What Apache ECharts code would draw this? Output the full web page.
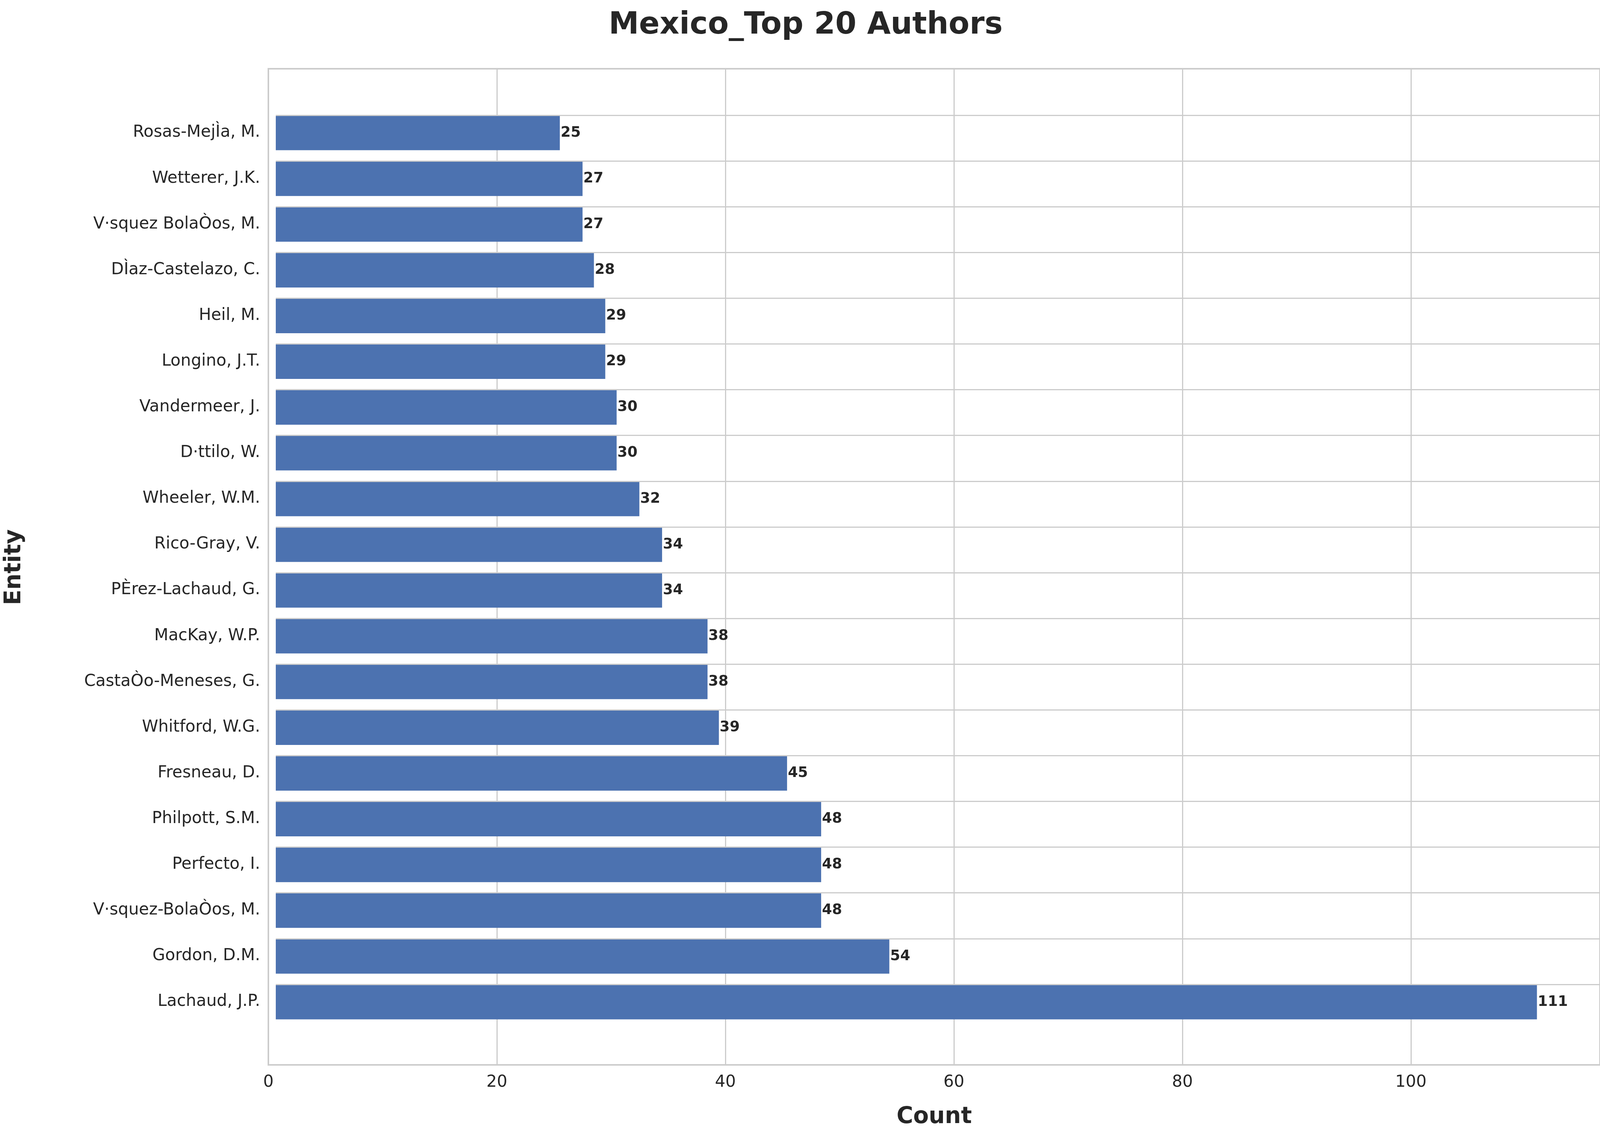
<!DOCTYPE html>
<html>
<head>
<meta charset="utf-8">
<style>html,body{margin:0;padding:0;background:#fff}#chart{width:4125px;height:2926px}</style>
<script src="https://cdn.jsdelivr.net/npm/echarts@6/dist/echarts.min.js"></script>
</head>
<body>
<div id="chart"></div>
<script>
// bottom to top
var authors = ['Lachaud, J.P.', 'Gordon, D.M.', 'V·squez-BolaÒos, M.', 'Perfecto, I.', 'Philpott, S.M.',
  'Fresneau, D.', 'Whitford, W.G.', 'CastaÒo-Meneses, G.', 'MacKay, W.P.', 'PÈrez-Lachaud, G.',
  'Rico-Gray, V.', 'Wheeler, W.M.', 'D·ttilo, W.', 'Vandermeer, J.', 'Longino, J.T.', 'Heil, M.',
  'DÌaz-Castelazo, C.', 'V·squez BolaÒos, M.', 'Wetterer, J.K.', 'Rosas-MejÌa, M.'];
var counts = [111, 54, 48, 48, 48, 45, 39, 38, 38, 34, 34, 32, 30, 30, 29, 29, 28, 27, 27, 25];

var txt = '#262626', grid = '#cccccc', font = 'DejaVu Sans';
var xMax = 116.55;

var chart = echarts.init(document.getElementById('chart'));
chart.setOption({
  backgroundColor: '#fff',
  textStyle: { fontFamily: font },
  title: { text: 'Mexico_Top 20 Authors', left: 'center', top: 22,
    textStyle: { fontSize: 78, fontWeight: 'bold', color: txt, fontFamily: font } },
  grid: [
    { left: 687, right: 29, top: 176, bottom: 200, show: true, borderColor: grid, borderWidth: 4 },
    { left: 687, right: 29, top: 281, bottom: 303 }
  ],
  xAxis: [
    { gridIndex: 0, type: 'value', min: 0, max: xMax, interval: 20,
      axisLine: { show: false }, axisTick: { show: false },
      axisLabel: { fontSize: 42, color: txt, margin: 24, showMaxLabel: false },
      splitLine: { lineStyle: { color: grid, width: 3 } },
      name: 'Count', nameLocation: 'middle', nameGap: 105,
      nameTextStyle: { fontSize: 58, fontWeight: 'bold', color: txt } },
    { gridIndex: 1, type: 'value', min: 0, max: xMax, show: false }
  ],
  yAxis: [
    { gridIndex: 0, type: 'value', show: false },
    { gridIndex: 1, type: 'category', data: authors,
      axisLine: { show: false }, axisTick: { show: false },
      axisLabel: { fontSize: 42, color: txt, margin: 40 },
      splitLine: { show: false },
      name: 'Entity', nameLocation: 'middle', nameGap: 640,
      nameTextStyle: { fontSize: 58, fontWeight: 'bold', color: txt } }
  ],
  series: [
    { type: 'bar', xAxisIndex: 1, yAxisIndex: 1, data: [], z: 1,
      markLine: { silent: true, symbol: 'none', label: { show: false },
        lineStyle: { color: grid, width: 3, type: 'solid' },
        data: authors.map(function (a) { return { yAxis: a }; }) } },
    { type: 'bar', xAxisIndex: 1, yAxisIndex: 1, data: counts, z: 3, barWidth: 89,
      itemStyle: { color: '#4c72b0' },
      label: { show: true, position: 'right', distance: 2, fontSize: 37,
        fontWeight: 'bold', color: txt } }
  ]
});
</script>
</body>
</html>
